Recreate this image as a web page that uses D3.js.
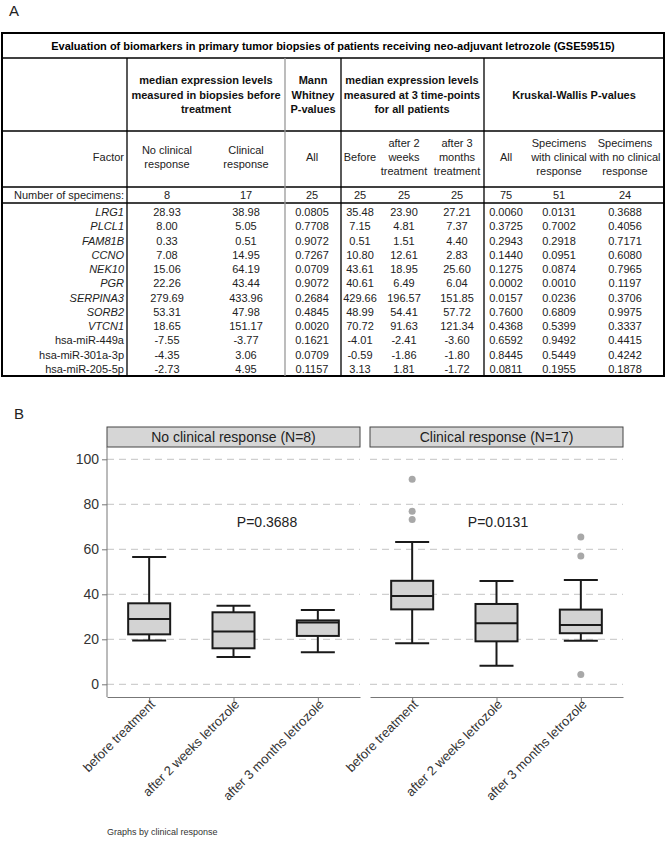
<!DOCTYPE html>
<html><head><meta charset="utf-8">
<script src="https://cdn.jsdelivr.net/npm/d3@7"></script>
<style>body{margin:0;background:#fff}svg{display:block;font-family:"Liberation Sans",Arial,sans-serif}</style>
</head><body><svg id="c" width="667" height="842"></svg>
<script>
// ---------- DATA: table ----------
const title = "Evaluation of biomarkers in primary tumor biopsies of patients receiving neo-adjuvant letrozole (GSE59515)";
const factors = ["LRG1","PLCL1","FAM81B","CCNO","NEK10","PGR","SERPINA3","SORB2","VTCN1","hsa-miR-449a","hsa-miR-301a-3p","hsa-miR-205-5p"];
const isGene = [true,true,true,true,true,true,true,true,true,false,false,false];
const noResponse = ["28.93","8.00","0.33","7.08","15.06","22.26","279.69","53.31","18.65","-7.55","-4.35","-2.73"];
const response = ["38.98","5.05","0.51","14.95","64.19","43.44","433.96","47.98","151.17","-3.77","3.06","4.95"];
const mannWhitney = ["0.0805","0.7708","0.9072","0.7267","0.0709","0.9072","0.2684","0.4845","0.0020","0.1621","0.0709","0.1157"];
const beforeT = ["35.48","7.15","0.51","10.80","43.61","40.61","429.66","48.99","70.72","-4.01","-0.59","3.13"];
const after2w = ["23.90","4.81","1.51","12.61","18.95","6.49","196.57","54.41","91.63","-2.41","-1.86","1.81"];
const after3m = ["27.21","7.37","4.40","2.83","25.60","6.04","151.85","57.72","121.34","-3.60","-1.80","-1.72"];
const kwAll = ["0.0060","0.3725","0.2943","0.1440","0.1275","0.0002","0.0157","0.7600","0.4368","0.6592","0.8445","0.0811"];
const kwResp = ["0.0131","0.7002","0.2918","0.0951","0.0874","0.0010","0.0236","0.6809","0.5399","0.9492","0.5449","0.1955"];
const kwNoResp = ["0.3688","0.4056","0.7171","0.6080","0.7965","0.1197","0.3706","0.9975","0.3337","0.4415","0.4242","0.1878"];
const specimens = ["8","17","25","25","25","25","75","51","24"];
const groupHeaders = [
  ["median expression levels","measured in biopsies before","treatment"],
  ["Mann","Whitney","P-values"],
  ["median expression levels","measured at 3 time-points","for all patients"],
  ["Kruskal-Wallis P-values"]
];
const colHeaders = [["No clinical","response"],["Clinical","response"],["All"],["Before"],["after 2","weeks","treatment"],["after 3","months","treatment"],["All"],["Specimens","with clinical","response"],["Specimens","with no clinical","response"]];

// ---------- DATA: box plots ----------
const timepoints = ["before treatment","after 2 weeks letrozole","after 3 months letrozole"];
const panels = ["No clinical response (N=8)","Clinical response (N=17)"];
const pLabels = ["P=0.3688","P=0.0131"];
const yTicks = [0,20,40,60,80,100];
// [lower whisker, Q1, median, Q3, upper whisker]
const boxNoResp = [[19.5,22.2,29.0,36.0,56.6],[12.1,16.0,23.5,32.0,34.9],[14.2,21.5,27.5,28.4,33.0]];
const boxResp = [[18.2,33.3,39.2,46.0,63.2],[8.3,19.1,27.1,35.7,45.9],[19.4,22.7,26.4,33.2,46.4]];
const outNoResp = [[],[],[]];
const outResp = [[91.1,76.9,73.2],[],[65.5,57.0,4.4]];

// ---------- TABLE ----------
const svg = d3.select("#c");
const T = {l:2, r:664, top:33, t1:58, h1:131, h2:187, h3:203, bot:376};
const colX = [167,246,312,360,404,457,506,559,625];
const vLines = [{x:127,c:"#000",w:1.3},{x:285,c:"#999",w:1.3},{x:341,c:"#000",w:1.3},{x:484,c:"#000",w:1.3}];
const groupX = [206,313,412,574];
const fs = 11;

svg.append("text").attr("x",9).attr("y",16).attr("font-size",15).attr("fill","#222").text("A");

const tb = svg.append("g");
tb.append("rect").attr("x",T.l).attr("y",T.top).attr("width",T.r-T.l).attr("height",T.bot-T.top)
  .attr("fill","none").attr("stroke","#000").attr("stroke-width",2);
[T.t1,T.h1,T.h2,T.h3].forEach(y=>tb.append("line").attr("x1",T.l).attr("x2",T.r).attr("y1",y).attr("y2",y).attr("stroke","#000").attr("stroke-width",y===T.h2||y===T.t1?1.6:1.3));
vLines.forEach(v=>tb.append("line").attr("x1",v.x).attr("x2",v.x).attr("y1",T.t1).attr("y2",T.bot).attr("stroke",v.c).attr("stroke-width",v.w));

tb.append("text").attr("x",333).attr("y",50).attr("text-anchor","middle").attr("font-size",fs).attr("font-weight","bold").text(title);

groupHeaders.forEach((lines,i)=>{
  const y0 = lines.length===1 ? 99 : 84;
  lines.forEach((s,j)=>tb.append("text").attr("x",groupX[i]).attr("y",y0+j*14.6).attr("text-anchor","middle")
    .attr("font-size",fs).attr("font-weight","bold").attr("fill","#111").text(s));
});
tb.append("text").attr("x",124).attr("y",161).attr("text-anchor","end").attr("font-size",fs).attr("fill","#222").text("Factor");
colHeaders.forEach((lines,i)=>{
  const n = lines.length;
  const y0 = 161 - (n-1)*14.2/2;
  lines.forEach((s,j)=>tb.append("text").attr("x",colX[i]).attr("y",y0+j*14.2).attr("text-anchor","middle")
    .attr("font-size",fs).attr("fill","#222").text(s));
});
tb.append("text").attr("x",124).attr("y",199).attr("text-anchor","end").attr("font-size",fs).attr("fill","#222").text("Number of specimens:");
specimens.forEach((s,i)=>tb.append("text").attr("x",colX[i]).attr("y",199).attr("text-anchor","middle").attr("font-size",fs).attr("fill","#222").text(s));

const cols = [noResponse,response,mannWhitney,beforeT,after2w,after3m,kwAll,kwResp,kwNoResp];
const rowY = d3.scalePoint().domain(factors).range([212,369]);
factors.forEach((f,r)=>{
  const y = rowY(f)+4;
  tb.append("text").attr("x",124).attr("y",y).attr("text-anchor","end").attr("font-size",fs).attr("fill","#222")
    .attr("font-style",isGene[r]?"italic":"normal").text(f);
  cols.forEach((c,i)=>tb.append("text").attr("x",colX[i]).attr("y",y).attr("text-anchor","middle").attr("font-size",fs).attr("fill","#222").text(c[r]));
});

// ---------- BOX PLOTS ----------
svg.append("text").attr("x",14).attr("y",419).attr("font-size",15).attr("fill","#222").text("B");

const y = d3.scaleLinear().domain([0,100]).range([684.3,459.3]);
const panelX = [107,370], panelW = 253;
const stripTop = 427, stripBot = 447, axisY = 697;
const boxes = [boxNoResp, boxResp], outs = [outNoResp, outResp];
const pLabX = [267,498];

panels.forEach((name,p)=>{
  const g = svg.append("g");
  const x = d3.scalePoint().domain(timepoints).range([panelX[p], panelX[p]+panelW]).padding(0.5);
  g.append("rect").attr("x",panelX[p]).attr("y",stripTop).attr("width",panelW).attr("height",stripBot-stripTop)
    .attr("fill","#d6d6d6").attr("stroke","#444").attr("stroke-width",1);
  g.append("text").attr("x",panelX[p]+panelW/2).attr("y",stripTop+15).attr("text-anchor","middle")
    .attr("font-size",14).attr("fill","#222").text(name);
  yTicks.forEach(t=>g.append("line").attr("x1",panelX[p]).attr("x2",panelX[p]+panelW).attr("y1",y(t)).attr("y2",y(t))
    .attr("stroke","#c4c4c4").attr("stroke-width",1).attr("stroke-dasharray","7,5"));
  if(p===0){
    const ya = g.append("g").attr("transform",`translate(${panelX[p]},0)`)
      .call(d3.axisLeft(y).tickValues(yTicks).tickSize(5).tickPadding(3));
    ya.select(".domain").attr("stroke","#777").attr("d",`M-0,${stripBot}V${axisY}`);
    ya.selectAll(".tick line").attr("stroke","#777");
    ya.selectAll(".tick text").attr("font-size",14).attr("fill","#333").attr("font-family","Liberation Sans, Arial, sans-serif");
  }
  const xa = g.append("g").attr("transform",`translate(0,${axisY})`).call(d3.axisBottom(x).tickSize(5).tickSizeOuter(0));
  xa.select(".domain").attr("stroke","#777");
  xa.selectAll(".tick line").attr("stroke","#777");
  xa.selectAll(".tick text").attr("font-size",13).attr("fill","#333").attr("font-family","Liberation Sans, Arial, sans-serif")
    .attr("text-anchor","end").attr("transform","translate(3,5) rotate(-45)").attr("dy","0.35em").attr("y",0).attr("x",0);
  const bw = 42, cw = 34;
  timepoints.forEach((tp,i)=>{
    const [lo,q1,md,q3,hi] = boxes[p][i];
    const cx = x(tp);
    const ln = (x1,y1,x2,y2)=>g.append("line").attr("x1",x1).attr("y1",y1).attr("x2",x2).attr("y2",y2).attr("stroke","#1a1a1a").attr("stroke-width",2);
    ln(cx,y(hi),cx,y(q3)); ln(cx,y(q1),cx,y(lo));
    ln(cx-cw/2,y(hi),cx+cw/2,y(hi)); ln(cx-cw/2,y(lo),cx+cw/2,y(lo));
    g.append("rect").attr("x",cx-bw/2).attr("y",y(q3)).attr("width",bw).attr("height",y(q1)-y(q3))
      .attr("fill","#d3d3d3").attr("stroke","#1a1a1a").attr("stroke-width",2);
    ln(cx-bw/2,y(md),cx+bw/2,y(md));
    outs[p][i].forEach(v=>g.append("circle").attr("cx",cx).attr("cy",y(v)).attr("r",3.5).attr("fill","#a8a8a8"));
  });
  g.append("text").attr("x",pLabX[p]).attr("y",527).attr("text-anchor","middle").attr("font-size",14).attr("fill","#222").text(pLabels[p]);
});

svg.append("text").attr("x",107).attr("y",835).attr("font-size",9).attr("fill","#333").text("Graphs by clinical response");
</script></body></html>
